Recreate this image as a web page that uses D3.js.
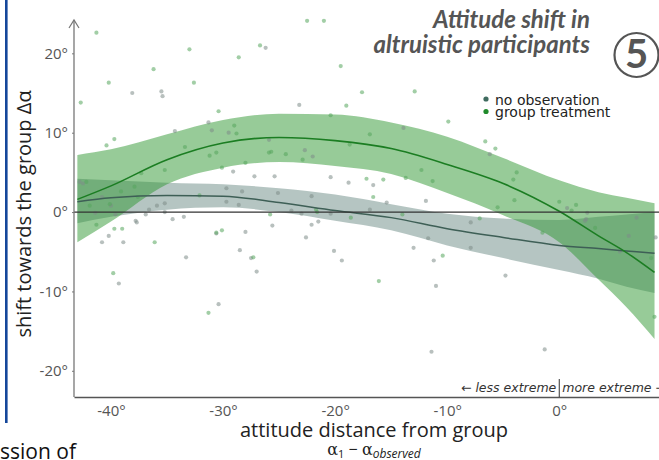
<!DOCTYPE html>
<html><head><meta charset="utf-8">
<script src="https://cdn.jsdelivr.net/npm/d3@7"></script>
<style>body{margin:0;background:#fff;overflow:hidden} svg{display:block;font-family:"Open Sans",sans-serif;}</style>
</head><body><svg id="c" width="659" height="460"></svg>
<script>
// ---- data ----
const gridX      = [-43, -40, -35, -30, -25, -20, -15, -10, -5, 0, 3.5, 6, 8.5];
const groupFit   = [1.6, 3.3, 6.6, 8.7, 9.4, 9.0, 8.0, 6.0, 3.6, 0.1, -3.0, -5.1, -7.6];
const groupHi    = [7.2, 7.9, 9.8, 11.6, 12.4, 12.3, 11.3, 9.5, 6.8, 4.0, 2.5, 1.8, 1.1];
const groupLo    = [-3.8, -1.2, 3.5, 5.6, 6.3, 5.8, 4.8, 2.4, -0.4, -3.8, -8.5, -12.0, -16.0];
const noObsFit   = [1.3, 1.8, 2.1, 2.0, 1.2, 0.2, -0.7, -2.1, -3.2, -4.2, -4.6, -4.9, -5.2];
const noObsHi    = [4.2, 4.0, 3.7, 3.5, 3.0, 2.2, 1.0, -0.2, -0.8, -1.0, -0.6, -0.3, 0.0];
const noObsLo    = [-1.4, -0.6, 0.3, 0.6, 0.0, -1.1, -2.3, -4.2, -5.8, -7.3, -8.4, -9.4, -10.2];

const groupPoints = [[-41.3,22.6],[-33.0,20.5],[-36.2,18.0],[-40.2,16.3],[-42.7,13.8],[-32.6,16.3],[-40.4,8.4],[-39.7,9.2],[-30.4,12.7],[-33.4,8.2],[-31.2,7.1],[-30.6,7.5],[-30.1,5.6],[-35.2,5.3],[-37.3,4.9],[-37.9,3.2],[-39.1,2.6],[-41.9,0.8],[-37.6,1.9],[-32.1,2.1],[-39.7,-2.1],[-39.0,-2.1],[-41.3,-1.6],[-36.1,-3.8],[-30.6,-2.6],[-39.8,-7.7],[-31.3,-12.7],[-30.1,-2.3],[-29.0,10.9],[-28.8,9.9],[-19.0,13.4],[-17.6,15.1],[-12.9,15.2],[-20.4,12.2],[-16.9,9.8],[-18.7,8.5],[-25.9,7.5],[-25.7,7.6],[-24.4,7.3],[-22.9,6.6],[-28.0,6.2],[-17.2,4.2],[-15.7,4.1],[-13.7,4.3],[-12.3,5.3],[-11.3,3.9],[-16.6,1.9],[-21.7,0.3],[-21.6,0.0],[-25.8,-0.3],[-18.6,-0.7],[-14.0,-0.3],[-27.3,-5.7],[-16.1,-8.7],[-10.4,-5.5],[-22.5,24.1],[-21.0,24.1],[-26.7,21.0],[-28.6,19.5],[-19.5,18.4],[-6.6,8.9],[-5.7,8.0],[-3.8,5.0],[-4.1,4.1],[-4.0,1.5],[-5.5,0.6],[0.0,1.3],[1.1,0.2],[1.5,0.9],[3.2,-2.0],[-7.1,-0.8],[-1.5,-2.6],[8.2,-5.8],[8.5,-13.2],[-9.9,11.4],[-42.2,3.8],[-40.1,1.0]];
const noObsPoints = [[-38.1,15.0],[-35.5,15.2],[-35.4,14.6],[-34.3,10.2],[-31.3,11.3],[-31.0,10.3],[-29.5,10.0],[-42.8,3.8],[-42.5,3.6],[-40.8,1.9],[-29.7,3.0],[-40.0,0.8],[-35.9,0.8],[-35.2,1.1],[-35.2,0.0],[-36.6,0.3],[-36.9,-0.3],[-39.6,-0.3],[-41.4,-0.1],[-37.8,-1.1],[-37.7,-1.3],[-34.5,-0.9],[-33.5,-0.6],[-40.2,-3.0],[-40.8,-3.8],[-38.9,-3.8],[-33.3,-5.7],[-39.3,-9.0],[-30.4,-11.6],[-30.6,-2.7],[-28.5,-4.8],[-29.7,1.3],[-28.6,0.9],[-23.2,13.5],[-25.9,9.1],[-13.9,10.6],[-22.7,7.8],[-22.0,7.0],[-29.1,5.1],[-25.4,4.5],[-27.2,4.5],[-20.4,4.4],[-18.8,3.7],[-16.6,3.4],[-28.3,2.6],[-25.1,2.4],[-22.1,2.0],[-15.4,1.2],[-11.9,1.4],[-23.9,0.2],[-23.0,-0.2],[-20.4,-0.2],[-16.9,0.3],[-21.5,-1.2],[-22.1,-1.6],[-25.6,-1.7],[-28.0,-2.5],[-11.7,-3.3],[-22.6,-3.2],[-20.1,-4.9],[-13.0,-4.5],[-27.5,-5.8],[-19.4,-6.1],[-11.2,-6.1],[-27.0,-7.5],[-11.0,-9.3],[-11.4,-17.6],[-26.2,20.7],[-6.2,7.3],[0.7,0.5],[2.5,-0.1],[2.4,-0.9],[2.3,-1.1],[6.9,-0.7],[6.2,-3.0],[8.6,-3.2],[-7.9,-1.3],[-7.9,-4.5],[5.4,-5.0],[-4.8,-8.0],[-1.3,-17.3]];

const xTicks = [-40, -30, -20, -10, 0];
const yTicks = [-20, -10, 0, 10, 20];
const legendLabels = ["no observation", "group treatment"];
const titleLines = ["Attitude shift in", "altruistic participants"];

// ---- drawing ----
const svg = d3.select("#c");
const x = d3.scaleLinear().domain([-43.3, 8.9]).range([74, 659]);
const y = d3.scaleLinear().domain([-23.3, 24.2]).range([397, 20]);

// left blue bar (page decoration)
svg.append("rect").attr("x", 5).attr("y", 0).attr("width", 2.6).attr("height", 423).attr("fill", "#15479a");

svg.append("defs").append("clipPath").attr("id", "plot")
  .append("rect").attr("x", 74).attr("y", 15).attr("width", 585).attr("height", 382);
const g = svg.append("g").attr("clip-path", "url(#plot)");

const band = (lo, hi) => d3.area().x((d, i) => x(gridX[i])).y0((d, i) => y(lo[i])).y1((d, i) => y(hi[i])).curve(d3.curveMonotoneX);
const line = (f) => d3.line().x((d, i) => x(gridX[i])).y((d, i) => y(f[i])).curve(d3.curveMonotoneX);

g.append("path").attr("d", band(noObsLo, noObsHi)(gridX)).attr("fill", "#6b8b85").attr("fill-opacity", 0.5);
g.append("path").attr("d", band(groupLo, groupHi)(gridX)).attr("fill", "#2f9731").attr("fill-opacity", 0.5);

g.selectAll("circle.no").data(noObsPoints).join("circle").attr("class", "no")
  .attr("cx", d => x(d[0])).attr("cy", d => y(d[1])).attr("r", 2.1)
  .attr("fill", "#7d8c88").attr("fill-opacity", 0.55);
g.selectAll("circle.gr").data(groupPoints).join("circle").attr("class", "gr")
  .attr("cx", d => x(d[0])).attr("cy", d => y(d[1])).attr("r", 2.1)
  .attr("fill", "#55a55c").attr("fill-opacity", 0.55);

// zero line
svg.append("line").attr("x1", x(-43.3)).attr("x2", 659).attr("y1", y(0)).attr("y2", y(0))
  .attr("stroke", "#333").attr("stroke-width", 1.2);

g.append("path").attr("d", line(noObsFit)(gridX)).attr("fill", "none").attr("stroke", "#3e5f56").attr("stroke-width", 1.5);
g.append("path").attr("d", line(groupFit)(gridX)).attr("fill", "none").attr("stroke", "#1b7d22").attr("stroke-width", 1.6);

// y axis
const yAxis = svg.append("g").attr("transform", "translate(74,0)")
  .call(d3.axisLeft(y).tickValues(yTicks).tickFormat(d => d + "°").tickSize(2).tickPadding(4));
yAxis.select(".domain").remove();
yAxis.selectAll("line").attr("stroke", "#777");
yAxis.selectAll("text").attr("font-family", "Open Sans").attr("font-size", 15).attr("fill", "#555");
svg.append("line").attr("x1", 74).attr("x2", 74).attr("y1", 397).attr("y2", 20).attr("stroke", "#777").attr("stroke-width", 1.3);
svg.append("path").attr("d", "M69,28 L74,20 L79,28").attr("fill", "none").attr("stroke", "#777").attr("stroke-width", 1.2);

// x axis
const xAxis = svg.append("g").attr("transform", "translate(0,397)")
  .call(d3.axisBottom(x).tickValues(xTicks).tickFormat(d => d + "°").tickSize(0).tickPadding(8));
xAxis.select(".domain").attr("stroke", "#555").attr("stroke-width", 1.3);
xAxis.selectAll("text").attr("font-family", "Open Sans").attr("font-size", 15).attr("fill", "#555");

// less/more extreme annotation
svg.append("line").attr("x1", x(0)).attr("x2", x(0)).attr("y1", 379).attr("y2", 397).attr("stroke", "#333").attr("stroke-width", 1);
svg.append("text").attr("x", x(0) - 3).attr("y", 392).attr("text-anchor", "end")
  .attr("font-family", "DejaVu Sans").attr("font-style", "italic").attr("font-size", 12.5).attr("fill", "#333")
  .text("← less extreme");
svg.append("text").attr("x", x(0) + 3).attr("y", 392).attr("text-anchor", "start")
  .attr("font-family", "DejaVu Sans").attr("font-style", "italic").attr("font-size", 12.5).attr("fill", "#333")
  .text("more extreme →");

// axis titles
svg.append("text").attr("transform", "translate(31,214) rotate(-90)").attr("text-anchor", "middle")
  .attr("font-size", 20).attr("fill", "#222").text("shift towards the group Δα");
svg.append("text").attr("x", 374).attr("y", 437).attr("text-anchor", "middle")
  .attr("font-size", 20).attr("fill", "#222").text("attitude distance from group");
const sub = svg.append("text").attr("x", 374).attr("y", 455).attr("text-anchor", "middle").attr("fill", "#222");
sub.append("tspan").attr("font-family", "DejaVu Serif").attr("font-size", 16).text("α");
sub.append("tspan").attr("font-size", 11).attr("dy", 3).text("1");
sub.append("tspan").attr("font-size", 16).attr("dy", -3).text(" − ");
sub.append("tspan").attr("font-family", "DejaVu Serif").attr("font-size", 16).text("α");
sub.append("tspan").attr("font-size", 12).attr("font-style", "italic").attr("dy", 3).text("observed");

// title
titleLines.forEach((t, i) => {
  svg.append("text").attr("x", 590).attr("y", 28 + i * 25).attr("text-anchor", "end")
    .attr("font-family", "Lato").attr("font-weight", "bold").attr("font-style", "italic")
    .attr("font-size", 24).attr("fill", "#555").text(t);
});
svg.append("circle").attr("cx", 636.5).attr("cy", 55).attr("r", 22).attr("fill", "none").attr("stroke", "#555").attr("stroke-width", 2.2);
svg.append("text").attr("x", 636.5).attr("y", 68).attr("text-anchor", "middle")
  .attr("font-family", "Lato").attr("font-weight", "bold").attr("font-size", 40).attr("fill", "#555").text("5");

// legend
const legColors = ["#3f6b5f", "#1f8a2a"];
legendLabels.forEach((t, i) => {
  svg.append("circle").attr("cx", 486).attr("cy", 99 + i * 12.5).attr("r", 2.6).attr("fill", legColors[i]);
  svg.append("text").attr("x", 495).attr("y", 104.5 + i * 12.5).attr("font-family", "DejaVu Sans")
    .attr("font-size", 14).attr("fill", "#222").text(t);
});

// cropped page text
svg.append("text").attr("x", 0).attr("y", 459).attr("font-size", 21).attr("fill", "#111").text("ssion of");
</script>
</body></html>
